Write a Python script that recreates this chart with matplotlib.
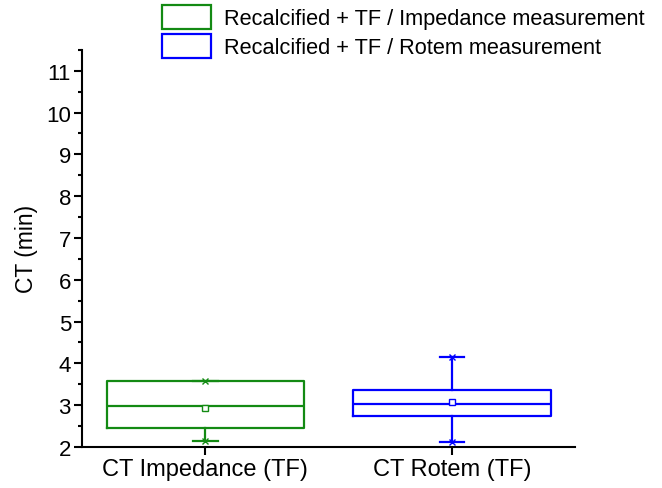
import matplotlib
matplotlib.use("Agg")
import matplotlib.pyplot as plt
from matplotlib.patches import Patch
from matplotlib.ticker import MultipleLocator

plt.rcParams["font.family"] = ["Liberation Sans", "DejaVu Sans"]

# box statistics (minutes)
categories = ["CT Impedance (TF)", "CT Rotem (TF)"]
series_names = ["Recalcified + TF / Impedance measurement",
                "Recalcified + TF / Rotem measurement"]
q1 = [2.46, 2.73]
median = [2.97, 3.02]
q3 = [3.58, 3.36]
whisker_lo = [2.14, 2.12]
whisker_hi = [3.58, 4.15]
mean = [2.93, 3.07]
data_min = [2.14, 2.12]
data_max = [3.58, 4.15]

colors = ["#138a13", "#0000ff"]

fig = plt.figure(figsize=(6.62, 4.89), dpi=100)
ax = fig.add_axes([0.124, 0.084, 0.745, 0.812])

for i in range(len(categories)):
    stats = [dict(med=median[i], q1=q1[i], q3=q3[i], whislo=whisker_lo[i],
                  whishi=whisker_hi[i], mean=mean[i], fliers=[])]
    c = colors[i]
    ax.bxp(stats, positions=[i + 1], widths=0.8, showmeans=True,
           boxprops=dict(color=c, lw=1.6),
           medianprops=dict(color=c, lw=1.6),
           whiskerprops=dict(color=c, lw=1.6),
           capprops=dict(color=c, lw=1.6),
           capwidths=0.1,
           meanprops=dict(marker="s", markersize=4, markerfacecolor="white",
                          markeredgecolor=c, markeredgewidth=1.0))
    ax.plot([i + 1, i + 1], [data_min[i], data_max[i]], ls="none", marker="x",
            ms=4, mew=1.0, color=c, zorder=4)

ax.set_xlim(0.5, 2.5)
ax.set_ylim(2, 11.5)
ax.set_xticks([1, 2])
ax.set_xticklabels(categories, fontsize=17)
ax.yaxis.set_major_locator(MultipleLocator(1))
ax.yaxis.set_minor_locator(MultipleLocator(0.5))
ax.set_ylabel("CT (min)", fontsize=16.5, labelpad=6)

for side in ("top", "right"):
    ax.spines[side].set_visible(False)
for side in ("left", "bottom"):
    ax.spines[side].set_linewidth(1.5)
ax.tick_params(axis="both", which="major", direction="out", length=6, width=1.5,
               pad=2)
ax.tick_params(axis="y", which="major", labelsize=16)
ax.tick_params(axis="y", which="minor", direction="out", length=3, width=1.5)

handles = [Patch(facecolor="white", edgecolor=c, lw=1.6) for c in colors]
fig.legend(handles, series_names, loc="upper left", bbox_to_anchor=(0.2315, 1.005),
           frameon=False, fontsize=15.7, handlelength=2.25, handleheight=1.3,
           handletextpad=0.6, labelspacing=0.2, borderaxespad=0.0)

fig.savefig("out.png", dpi=100, facecolor="white")
